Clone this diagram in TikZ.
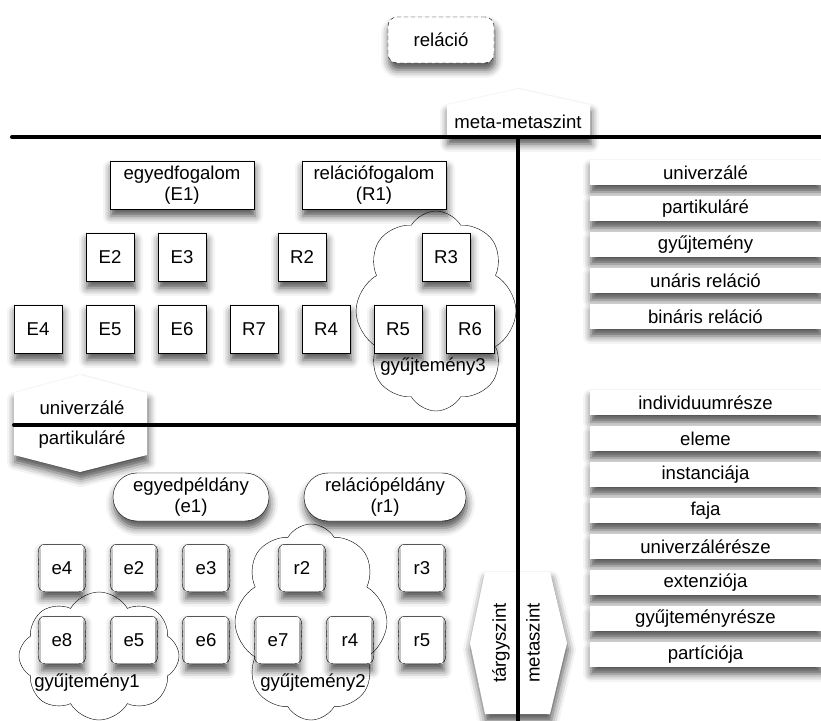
\documentclass[tikz,border=0pt]{standalone}
\usepackage{fontspec}
\setmainfont{Liberation Sans}
\usetikzlibrary{positioning}
\usetikzlibrary{shapes.misc,shapes.symbols,shadows.blur}

\tikzset{
  arny/.style={blur shadow={shadow xshift=1pt,shadow yshift=-7pt,shadow blur radius=8pt,shadow opacity=70}},
  fogalom/.style={draw,fill=white,arny,minimum width=48pt,minimum height=48pt,inner sep=1pt},
  nagyfogalom/.style={fogalom,minimum width=144pt,align=center},
  peldany/.style={fill=white,arny,minimum width=42pt,minimum height=47pt,inner sep=1pt},
  nagypeldany/.style={draw,fill=white,arny,rounded rectangle,minimum width=158pt,minimum height=48pt,align=center,inner sep=1pt},
  gyujt/.style={draw,cloud,cloud puffs=8,cloud puff arc=120,cloud ignores aspect},
  sav/.style={fill=white,arny,minimum width=231pt,minimum height=25pt,inner sep=0pt},
  szint/.style={fill=white,arny},
  vonal/.style={line width=4pt,line cap=round},
}

\begin{document}
\begin{tikzpicture}[x=1pt,y=-1pt,font=\fontsize{18.6}{20.5}\selectfont,node distance=72pt,on grid]
   \useasboundingbox (0,0) rectangle (821,720);

   \node[gyujt,minimum width=160pt,minimum height=200pt] (gy3) at (436,311) {};
   \node[gyujt,minimum width=160pt,minimum height=128pt] (gy1) at (99,656) {};
   \node[gyujt,minimum width=152pt,minimum height=196pt] (gy2) at (311,622) {};

   \node[draw,dashed,dash pattern=on 4pt off 3pt,rounded corners=9pt,fill=white,arny,minimum width=106pt,minimum height=46pt] (rel) at (441,40) {reláció};

   \fill[szint] (447,137) -- (447,105) -- (518,89) -- (590,105) -- (590,137) -- cycle;
   \fill[szint] (14,393) -- (80,375) -- (147,393) -- (147,455) -- (80,472) -- (14,455) -- cycle;
   \fill[szint] (485,572) -- (550,572) -- (567,643) -- (550,714) -- (485,714) -- (470,643) -- cycle;
   \node (mms) at (518,122) {meta-metaszint};
   \node (univ) at (82,408) {univerzálé};
   \node (part) at (82,440) {partikuláré};
   \node[rotate=90] (targy) at (501,643) {tárgyszint};
   \node[rotate=90] (meta) at (533,643) {metaszint};

   \coordinate (fb) at (12,137);
   \coordinate (fj) at (823,137);
   \coordinate (ft) at (518,137);
   \coordinate (fa) at (518,722);
   \coordinate (kb) at (14,425);
   \coordinate (kj) at (518,425);
   \draw[vonal] (fb) -- (fj);
   \draw[vonal] (ft) -- (fa);
   \draw[vonal] (kb) -- (kj);

   \node[nagyfogalom] (E1) at (182,185) {egyedfogalom\\(E1)};
   \node[nagyfogalom] (R1) at (374,185) {relációfogalom\\(R1)};
   \node[fogalom] (E4) at (38,329) {E4};
   \node[fogalom] (E5) [right=of E4] {E5};
   \node[fogalom] (E6) [right=of E5] {E6};
   \node[fogalom] (R7) [right=of E6] {R7};
   \node[fogalom] (R4) [right=of R7] {R4};
   \node[fogalom] (R5) [right=of R4] {R5};
   \node[fogalom] (R6) [right=of R5] {R6};
   \node[fogalom] (E2) [above=of E5] {E2};
   \node[fogalom] (E3) [above=of E6] {E3};
   \node[fogalom] (R2) [above=of R4, xshift=-24pt] {R2};
   \node[fogalom] (R3) [above=of R6, xshift=-24pt] {R3};
   \node (gy3t) at (433,367) {gyűjtemény3};

   \node[nagypeldany] (e1) at (191,497) {egyedpéldány\\(e1)};
   \node[nagypeldany,minimum width=164pt] (r1) at (385,497) {relációpéldány\\(r1)};
   \node[peldany] (e8) at (62,640) {e8};
   \node[peldany] (e5) [right=of e8] {e5};
   \node[peldany] (e6) [right=of e5] {e6};
   \node[peldany] (e7) [right=of e6] {e7};
   \node[peldany] (r4) [right=of e7] {r4};
   \node[peldany] (r5) [right=of r4] {r5};
   \node[peldany] (e4) [above=of e8] {e4};
   \node[peldany] (e2) [above=of e5] {e2};
   \node[peldany] (e3) [above=of e6] {e3};
   \node[peldany] (r2) [above=of e7, xshift=24pt] {r2};
   \node[peldany] (r3) [above=of r5] {r3};
   \foreach \n in {e2,e3,e4,e5,e6,e7,e8,r2,r3,r4,r5}
     \draw ([xshift=4pt]\n.north west) -- ([xshift=-4pt]\n.north east)
       to[out=0,in=90] ([xshift=2pt]\n.east) to[out=-90,in=0] ([xshift=-4pt]\n.south east)
       -- ([xshift=4pt]\n.south west) to[out=180,in=-90] ([xshift=-2pt]\n.west)
       to[out=90,in=180] cycle;
   \node (gy1t) at (87,683) {gyűjtemény1};
   \node (gy2t) at (313,683) {gyűjtemény2};

   \foreach \t [count=\i] in {univerzálé,partikuláré,gyűjtemény,unáris reláció,bináris reláció}
     \node[sav] (kat\i) at (705.5,136.5+36*\i) {\t};
   \foreach \t [count=\i] in {individuumrésze,eleme,instanciája,faja,univerzálérésze,extenziója,gyűjteményrésze,partíciója}
     \node[sav] (visz\i) at (705.5,366.5+36*\i) {\t};
\end{tikzpicture}
\end{document}
